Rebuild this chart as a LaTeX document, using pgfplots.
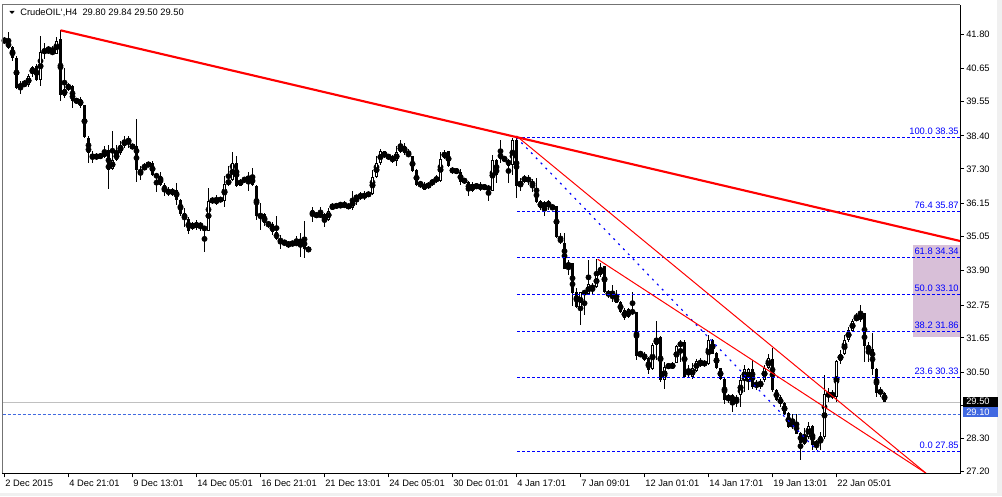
\documentclass[border=0pt]{standalone}
\usepackage{pgfplots}
\usepackage{pgfplotstable}
\pgfplotsset{compat=1.18}
\usepackage{fontspec}
\setmainfont{Liberation Sans}
\definecolor{fibblue}{RGB}{0,0,255}
\definecolor{askblue}{RGB}{65,105,225}
\definecolor{rectpurple}{RGB}{216,191,216}
\definecolor{bidgray}{RGB}{192,192,192}
\definecolor{mtred}{RGB}{255,0,0}
\newcommand\mtfont{\fontsize{7pt}{8pt}\selectfont}

\pgfplotstableread{
i o h l c
0 41.63 41.70 41.50 41.52
1 41.54 41.86 41.30 41.35
2 41.37 41.41 40.91 41.02
3 41.02 41.07 39.96 40.01
4 40.01 40.24 39.79 40.12
5 40.12 40.27 40.05 40.14
6 40.09 40.46 40.05 40.40
7 40.46 40.74 40.38 40.71
8 40.74 40.80 40.24 40.27
9 40.27 41.74 40.07 41.19
10 41.19 41.52 40.96 41.27
11 41.24 41.41 41.19 41.25
12 41.24 41.41 41.13 41.15
13 41.15 41.69 41.13 41.58
14 41.63 41.93 39.57 39.76
15 39.73 40.68 39.68 39.98
16 39.96 40.18 39.90 40.10
17 40.07 40.09 39.34 39.57
18 39.57 39.66 39.49 39.58
19 39.62 39.71 39.34 39.40
20 39.42 39.45 38.34 38.36
21 38.34 38.39 37.50 37.83
22 37.81 37.89 37.50 37.63
23 37.63 37.83 37.61 37.78
24 37.78 37.83 37.63 37.67
25 37.70 38.06 37.67 37.89
26 37.92 38.11 36.63 37.25
27 37.28 38.56 37.25 37.61
28 37.61 38.11 37.56 37.83
29 37.83 38.23 37.78 38.11
30 38.08 38.39 38.00 38.25
31 38.20 38.39 38.00 38.28
32 38.00 38.12 37.98 38.09
33 38.08 38.95 36.85 37.25
34 37.25 37.39 36.94 37.16
35 37.30 37.50 37.25 37.39
36 37.44 37.50 37.39 37.45
37 37.50 37.56 37.05 37.09
38 37.11 37.16 36.52 37.03
39 37.05 37.20 36.72 36.75
40 36.77 36.83 36.38 36.52
41 36.45 36.68 36.38 36.62
42 36.62 36.66 36.40 36.44
43 36.60 36.83 36.10 36.27
44 36.27 36.29 35.71 35.80
45 35.82 35.99 35.36 35.63
46 35.63 35.69 35.13 35.24
47 35.34 35.54 35.27 35.43
48 35.36 35.58 35.27 35.48
49 35.47 35.54 35.21 35.36
50 35.38 35.40 34.52 35.24
51 35.24 36.66 35.22 36.22
52 36.20 36.36 36.14 36.28
53 36.14 36.44 36.10 36.31
54 36.33 36.36 36.18 36.22
55 36.22 37.07 36.03 36.81
56 36.77 37.39 36.72 36.94
57 36.92 37.87 36.89 37.48
58 37.48 37.72 36.68 36.72
59 36.74 36.96 36.72 36.94
60 36.94 37.00 36.89 36.92
61 36.94 37.19 36.55 37.03
62 37.03 37.33 36.72 36.77
63 36.72 36.75 35.60 35.74
64 35.77 36.16 35.27 35.71
65 35.79 35.82 35.38 35.49
66 35.49 35.56 35.32 35.43
67 35.45 35.51 35.10 35.19
68 35.19 35.71 34.93 34.95
69 34.96 35.10 34.63 34.85
70 34.85 34.91 34.73 34.84
71 34.73 34.88 34.65 34.84
72 34.80 34.88 34.71 34.82
73 34.82 35.04 34.73 34.80
74 34.79 35.15 34.37 34.96
75 34.96 35.57 34.32 34.63
76 34.67 34.71 34.51 34.54
77 35.91 36.03 35.54 35.74
78 35.74 35.82 35.69 35.76
79 35.72 36.03 35.66 35.80
80 35.80 35.82 35.36 35.52
81 35.60 35.98 35.55 35.90
82 35.98 36.16 35.94 36.07
83 36.07 36.14 35.99 36.05
84 36.05 36.18 36.03 36.10
85 36.10 36.22 35.99 36.07
86 35.99 36.14 35.96 36.10
87 36.00 36.55 35.94 36.27
88 36.25 36.44 36.10 36.44
89 36.33 36.52 36.27 36.44
90 36.33 36.55 36.27 36.47
91 36.47 36.52 36.38 36.43
92 36.47 37.25 36.44 37.03
93 37.03 37.72 37.00 37.50
94 37.50 37.95 37.44 37.89
95 37.89 37.90 37.67 37.70
96 37.70 37.78 37.63 37.71
97 37.72 37.78 37.50 37.52
98 37.55 38.06 37.39 37.87
99 37.87 38.28 37.84 38.09
100 38.06 38.15 37.78 37.84
101 37.84 37.95 37.70 37.72
102 37.72 37.74 37.19 37.22
103 37.25 37.28 36.72 36.75
104 36.85 36.89 36.66 36.75
105 36.80 36.85 36.58 36.61
106 36.66 36.86 36.63 36.83
107 36.77 36.96 36.74 36.94
108 36.89 37.08 36.83 37.02
109 36.91 37.86 36.87 37.63
110 37.67 37.92 37.63 37.87
111 37.89 37.90 37.37 37.39
112 37.31 37.35 37.14 37.19
113 37.22 37.28 37.17 37.23
114 37.19 37.28 36.77 36.86
115 36.96 37.00 36.80 36.85
116 36.85 36.89 36.38 36.58
117 36.55 36.85 36.52 36.81
118 36.72 36.77 36.66 36.73
119 36.70 36.85 36.57 36.68
120 36.64 36.77 36.61 36.74
121 36.74 36.77 36.22 36.57
122 36.57 37.78 36.55 37.59
123 37.61 37.63 36.83 37.11
124 37.84 38.28 37.50 37.63
125 37.63 37.72 37.56 37.62
126 37.61 37.63 36.83 37.41
127 37.42 38.34 37.11 38.26
128 38.26 38.40 36.33 36.72
129 36.72 37.00 36.55 36.89
130 36.89 37.08 36.83 37.03
131 37.03 37.11 36.77 36.85
132 36.89 36.96 36.52 36.72
133 36.66 37.00 36.16 36.18
134 36.22 36.27 35.94 35.99
135 36.03 36.22 35.71 36.16
136 36.22 36.27 35.94 36.03
137 36.03 36.10 35.91 36.02
138 36.05 36.07 34.99 35.02
139 34.99 35.15 34.80 34.84
140 34.82 35.15 33.95 33.96
141 34.00 34.26 33.76 34.17
142 34.15 34.17 32.72 33.14
143 33.20 33.31 32.64 32.67
144 32.67 33.20 32.08 33.17
145 33.17 33.20 32.42 33.16
146 33.12 34.26 33.09 33.44
147 33.42 33.48 33.09 33.26
148 33.34 34.28 33.31 33.76
149 33.76 34.15 33.70 33.98
150 34.04 34.06 33.14 33.20
151 33.22 33.26 32.98 33.05
152 33.07 33.42 32.86 33.01
153 33.03 33.26 32.81 32.83
154 32.86 32.88 32.47 32.53
155 32.58 32.64 32.25 32.30
156 32.36 32.64 32.30 32.61
157 32.58 33.20 32.42 32.47
158 32.51 32.53 30.91 31.04
159 31.08 31.19 31.00 31.16
160 31.13 31.19 30.88 30.91
161 30.97 31.02 30.44 30.57
162 30.60 31.49 30.57 31.41
163 31.43 32.23 30.91 31.63
164 31.69 31.70 30.18 30.24
165 30.24 30.85 29.96 30.69
166 30.70 30.80 30.63 30.71
167 30.69 30.85 30.60 30.74
168 30.82 31.41 30.80 31.38
169 31.36 31.58 30.85 31.52
170 31.52 31.58 30.33 30.35
171 30.57 30.74 30.35 30.41
172 30.33 30.80 30.29 30.66
173 30.55 30.93 30.52 30.89
174 30.71 30.97 30.69 30.91
175 30.85 30.91 30.69 30.74
176 30.77 31.75 30.74 31.58
177 31.58 31.63 31.11 31.13
178 31.16 31.19 30.60 30.63
179 30.63 30.66 30.24 30.29
180 30.29 30.33 29.43 29.57
181 29.57 29.79 29.46 29.74
182 29.74 29.79 29.18 29.51
183 29.68 29.74 29.34 29.51
184 29.74 30.41 29.34 30.24
185 30.26 30.74 29.85 30.60
186 30.24 30.63 29.90 30.60
187 30.60 30.91 29.96 30.02
188 30.18 30.24 29.90 30.02
189 30.02 30.29 29.96 30.18
190 30.24 30.74 30.18 30.66
191 30.63 31.11 30.60 30.97
192 30.94 31.33 29.85 29.90
193 29.90 29.96 29.55 29.57
194 29.66 29.74 29.34 29.43
195 29.46 29.51 29.07 29.12
196 29.15 29.18 28.65 28.67
197 28.67 29.12 28.62 28.84
198 28.81 29.10 28.43 28.45
199 28.47 28.51 27.56 28.14
200 28.12 28.65 28.06 28.34
201 28.34 28.84 28.28 28.70
202 28.70 28.73 27.89 28.06
203 28.10 28.23 27.89 28.14
204 28.14 28.51 27.92 28.36
205 28.34 30.41 28.28 29.79
206 29.66 29.99 29.51 29.85
207 29.82 29.90 29.62 29.66
208 29.66 30.91 29.51 30.89
209 30.89 31.24 30.77 31.11
210 31.11 31.75 31.08 31.58
211 31.58 32.00 31.52 31.91
212 31.89 32.27 31.86 32.21
213 32.25 32.47 32.23 32.36
214 32.25 32.75 32.19 32.45
215 32.47 32.50 30.85 31.38
216 31.41 31.52 30.85 31.22
217 31.27 31.80 30.41 30.60
218 30.60 30.63 29.68 29.82
219 29.85 30.02 29.68 29.84
220 29.80 29.84 29.50 29.50
}\candles

\begin{document}
\begin{tikzpicture}
\path[use as bounding box] (0,0) rectangle (751.5pt,372pt);
\fill[white] (0,0) rectangle (751.5pt,372pt);
\fill[black!6] (748pt,0) rectangle (751.5pt,372pt);
\fill[black!6] (0,0) rectangle (751.5pt,2.25pt);
\begin{axis}[
  at={(1.5pt,17.025pt)}, anchor=south west,
  scale only axis, width=718.5pt, height=351.45pt,
  xmin=-0.625, xmax=238.875, ymin=27.1269, ymax=42.7861,
  clip mode=individual,
  axis line style={draw=none},
  tick align=outside, major tick length=3pt,
  tick style={black, line width=0.75pt},
  xtick pos=left, ytick pos=right, yticklabel pos=right,
  xtick={0,16,...,208},
  xticklabels={2 Dec 2015,4 Dec 21:01,9 Dec 13:01,14 Dec 05:01,16 Dec 21:01,21 Dec 13:01,24 Dec 05:01,30 Dec 01:01,4 Jan 17:01,7 Jan 09:01,12 Jan 01:01,14 Jan 17:01,19 Jan 13:01,22 Jan 05:01},
  ytick={27.20,28.30,30.50,31.65,32.75,33.90,35.05,36.15,37.30,38.40,39.55,40.65,41.80},
  extra y ticks={29.40}, extra y tick labels={},
  yticklabel style={font=\mtfont, anchor=west, inner sep=0pt, xshift=1.5pt,
    /pgf/number format/fixed, /pgf/number format/fixed zerofill,
    /pgf/number format/precision=2, /pgf/number format/assume math mode=true},
  xticklabel style={font=\mtfont, anchor=north west, inner sep=0pt, xshift=0.4pt, yshift=-1.5pt},
]
% purple rectangle
\addplot[draw=none, fill=rectpurple] coordinates {(227.05,34.756) (238.875,34.756) (238.875,31.692) (227.05,31.692)} -- cycle;
% bid line and 29.10 line
\addplot[bidgray, line width=0.75pt] coordinates {(-0.625,29.50) (238.875,29.50)};
\addplot[askblue, line width=0.75pt, dash pattern=on 2.25pt off 1.5pt] coordinates {(-0.5,29.10) (238.875,29.10)};
% wicks
\addplot[only marks, mark=none, error bars/.cd, y dir=both, y explicit, error mark=none,
  error bar style={black, line width=0.75pt}]
  table[x=i, y expr={(\thisrow{h}+\thisrow{l})/2}, y error expr={(\thisrow{h}-\thisrow{l})/2}] {\candles};
% bear bodies
\addplot[only marks, mark=none, restrict y to domain=20:50, error bars/.cd, y dir=both, y explicit, error mark=none,
  error bar style={black, line width=2.25pt}]
  table[x=i, y expr={\thisrow{c}<\thisrow{o} ? (\thisrow{o}+\thisrow{c})/2 : 100}, y error expr={max(abs(\thisrow{o}-\thisrow{c})/2,0.017)}] {\candles};
% bull bodies outline
\addplot[only marks, mark=none, restrict y to domain=20:50, error bars/.cd, y dir=both, y explicit, error mark=none,
  error bar style={black, line width=2.25pt}]
  table[x=i, y expr={\thisrow{c}<\thisrow{o} ? 100 : (\thisrow{o}+\thisrow{c})/2}, y error expr={max(abs(\thisrow{o}-\thisrow{c})/2,0.017)}] {\candles};
% bull bodies interior
\addplot[only marks, mark=none, restrict y to domain=20:50, error bars/.cd, y dir=both, y explicit, error mark=none,
  error bar style={white, line width=0.75pt}]
  table[x=i, y expr={\thisrow{c}<\thisrow{o} ? 100 : (\thisrow{o}+\thisrow{c})/2}, y error expr={max(abs(\thisrow{o}-\thisrow{c})/2-0.0335,0)}] {\candles};
% fibonacci levels
\addplot[fibblue, line width=0.75pt, dash pattern=on 2.25pt off 1.5pt] coordinates {(128.125,38.35) (238.875,38.35)};
\addplot[fibblue, line width=0.75pt, dash pattern=on 2.25pt off 1.5pt] coordinates {(128.125,35.87) (238.875,35.87)};
\addplot[fibblue, line width=0.75pt, dash pattern=on 2.25pt off 1.5pt] coordinates {(128.125,34.34) (238.875,34.34)};
\addplot[fibblue, line width=0.75pt, dash pattern=on 2.25pt off 1.5pt] coordinates {(128.125,33.10) (238.875,33.10)};
\addplot[fibblue, line width=0.75pt, dash pattern=on 2.25pt off 1.5pt] coordinates {(128.125,31.86) (238.875,31.86)};
\addplot[fibblue, line width=0.75pt, dash pattern=on 2.25pt off 1.5pt] coordinates {(128.125,30.33) (238.875,30.33)};
\addplot[fibblue, line width=0.75pt, dash pattern=on 2.25pt off 1.5pt] coordinates {(128.125,27.85) (238.875,27.85)};
% fib trend (dotted diagonal)
\addplot[fibblue, line width=0.9pt, dash pattern=on 1.5pt off 3.75pt] coordinates {(128,38.35) (203.4,27.85)};
% trend lines
\addplot[mtred, line width=1.6pt] coordinates {(14,41.93) (238.875,34.89)};
\addplot[mtred, line width=0.75pt] coordinates {(128,38.40) (230.4,27.127)};
\addplot[mtred, line width=0.75pt] coordinates {(148.3,34.28) (230.4,27.127)};
% fib labels
\node[anchor=base east, text=fibblue, inner sep=0pt, font=\mtfont, yshift=2.25pt] at (axis cs:238.6,38.35) {100.0 38.35};
\node[anchor=base east, text=fibblue, inner sep=0pt, font=\mtfont, yshift=2.25pt] at (axis cs:238.6,35.87) {76.4 35.87};
\node[anchor=base east, text=fibblue, inner sep=0pt, font=\mtfont, yshift=2.25pt] at (axis cs:238.6,34.34) {61.8 34.34};
\node[anchor=base east, text=fibblue, inner sep=0pt, font=\mtfont, yshift=2.25pt] at (axis cs:238.6,33.10) {50.0 33.10};
\node[anchor=base east, text=fibblue, inner sep=0pt, font=\mtfont, yshift=2.25pt] at (axis cs:238.6,31.86) {38.2 31.86};
\node[anchor=base east, text=fibblue, inner sep=0pt, font=\mtfont, yshift=2.25pt] at (axis cs:238.6,30.33) {23.6 30.33};
\node[anchor=base east, text=fibblue, inner sep=0pt, font=\mtfont, yshift=2.25pt] at (axis cs:238.6,27.85) {0.0 27.85};
% frame
\draw[black!55, line width=0.75pt] (rel axis cs:0,0) -- (rel axis cs:0,1) -- (rel axis cs:1,1);
\draw[black, line width=0.75pt] (rel axis cs:0,0) -- (rel axis cs:1,0) -- (rel axis cs:1,1);
\end{axis}
% price boxes
\fill[black] (722pt,67pt) rectangle (748.5pt,74.5pt);
\node[anchor=west, text=white, inner sep=0pt, font=\mtfont] at (724.5pt,70.75pt) {29.50};
\fill[askblue] (722pt,59pt) rectangle (748.5pt,67pt);
\node[anchor=west, text=white, inner sep=0pt, font=\mtfont] at (724.5pt,63pt) {29.10};
% title
\fill[black] (7pt,363.75pt) -- (11pt,363.75pt) -- (9pt,361.5pt) -- cycle;
\node[anchor=base west, inner sep=0pt, font=\mtfont] at (15pt,360.2pt) {CrudeOIL\symbol{96},H4\ \ 29.80 29.84 29.50 29.50};
\end{tikzpicture}
\end{document}
